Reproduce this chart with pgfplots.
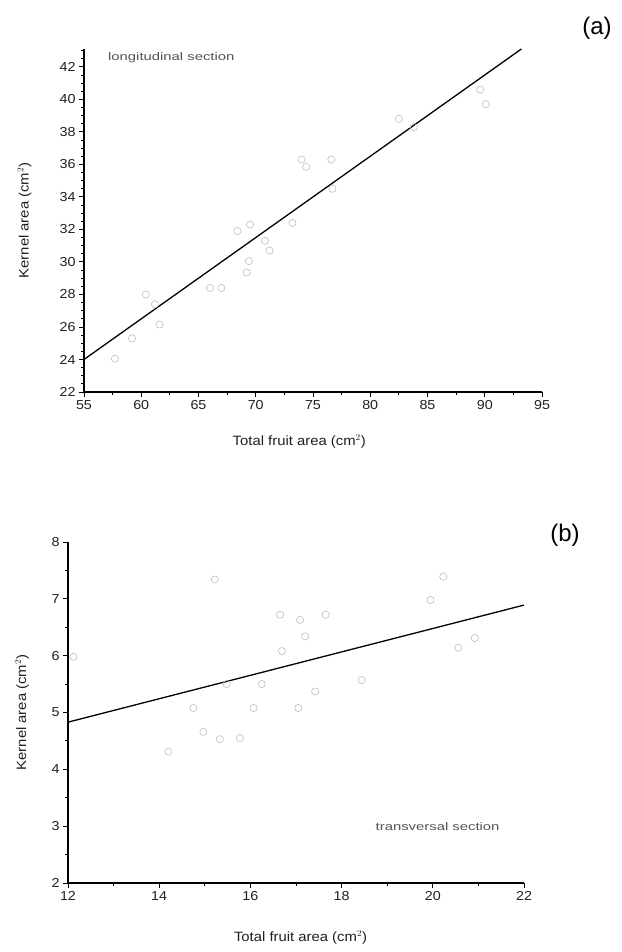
\documentclass[border=0pt]{standalone}
\usepackage{pgfplots}
\pgfplotsset{compat=1.18}
\usepackage{fontspec}
\setmainfont{Liberation Sans}[FakeStretch=1.1]
\setsansfont{Liberation Sans}[FakeStretch=1.1]
\newfontfamily\plainfont{Liberation Sans}
\newfontfamily\widefont{Liberation Sans}[FakeStretch=1.35]
\definecolor{markgray}{gray}{0.74}
\begin{document}
\begin{tikzpicture}
\useasboundingbox (0,0) rectangle (621pt,952pt);
\pgfplotsset{every axis/.append style={
  scale only axis,
  axis x line*=bottom, axis y line*=left,
  axis line style={line width=1.1pt, -},
  tick align=outside,
  major tick length=5pt, minor tick length=3pt,
  every tick/.style={line width=0.9pt, black},
  ticklabel style={font=\fontsize{13}{15}\selectfont, gray!25!black},
  label style={font=\fontsize{13.5}{16}\selectfont, gray!25!black},
  /pgf/number format/assume math mode=true,
  clip=false,
}}
% ---------------- panel (a) ----------------
\begin{axis}[
  at={(84pt,560pt)}, anchor=south west,
  width=458pt, height=343pt,
  xmin=55, xmax=95, ymin=22, ymax=43.1,
  xtick distance=5, ytick distance=2,
  minor x tick num=1, minor y tick num=3,
  xlabel={Total fruit area (cm$^2$)},
  ylabel={Kernel area (cm$^2$)},
  xlabel style={at={(axis description cs:0.47,-0.145)}, anchor=center},
  ylabel style={at={(axis description cs:-0.13,0.5)}, anchor=center},
]
\addplot[only marks, mark=o, mark size=3.6pt, markgray, line width=0.6pt] coordinates {
(57.7,24.05) (59.2,25.3) (60.4,28.0) (61.2,27.4) (61.6,26.15)
(66.0,28.4) (67.0,28.4) (68.4,31.9) (69.5,32.3) (69.4,30.05)
(69.2,29.35) (70.8,31.3) (71.2,30.7) (73.2,32.4) (74.0,36.3)
(74.4,35.85) (76.6,36.3) (76.7,34.5) (82.5,38.8) (83.8,38.3)
(89.6,40.6) (90.1,39.7)
};
\addplot[black, line width=1.3pt] coordinates {(55,24.0) (93.2,43.1)};
\node[anchor=west, font=\widefont\fontsize{11}{13}\selectfont, gray!65!black] at (rel axis cs:0.045,0.975) {longitudinal section};
\node[font=\plainfont\fontsize{24}{28}\selectfont] at (rel axis cs:1.12,1.06) {(a)};
\end{axis}
% ---------------- panel (b) ----------------
\begin{axis}[
  at={(68pt,69pt)}, anchor=south west,
  width=456pt, height=341pt,
  xmin=12, xmax=22, ymin=2, ymax=8,
  xtick distance=2, ytick distance=1,
  minor x tick num=1, minor y tick num=1,
  xlabel={Total fruit area (cm$^2$)},
  ylabel={Kernel area (cm$^2$)},
  xlabel style={at={(axis description cs:0.51,-0.16)}, anchor=center},
  ylabel style={at={(axis description cs:-0.101,0.5)}, anchor=center},
]
\addplot[only marks, mark=o, mark size=3.6pt, markgray, line width=0.6pt] coordinates {
(12.12,5.98) (15.22,7.34) (20.23,7.39) (19.95,6.98) (16.65,6.72)
(17.09,6.63) (17.65,6.72) (17.2,6.34) (16.69,6.08) (20.56,6.14)
(20.92,6.31) (15.48,5.5) (16.25,5.5) (17.42,5.37) (18.44,5.57)
(14.75,5.08) (16.07,5.08) (17.05,5.08) (14.97,4.66) (15.33,4.53)
(15.77,4.55) (14.2,4.31)
};
\addplot[black, line width=1.3pt] coordinates {(12,4.83) (22,6.89)};
\node[anchor=west, font=\widefont\fontsize{11}{13}\selectfont, gray!65!black] at (rel axis cs:0.667,0.165) {transversal section};
\node[font=\plainfont\fontsize{24}{28}\selectfont] at (rel axis cs:1.09,1.02) {(b)};
\end{axis}
\end{tikzpicture}
\end{document}
